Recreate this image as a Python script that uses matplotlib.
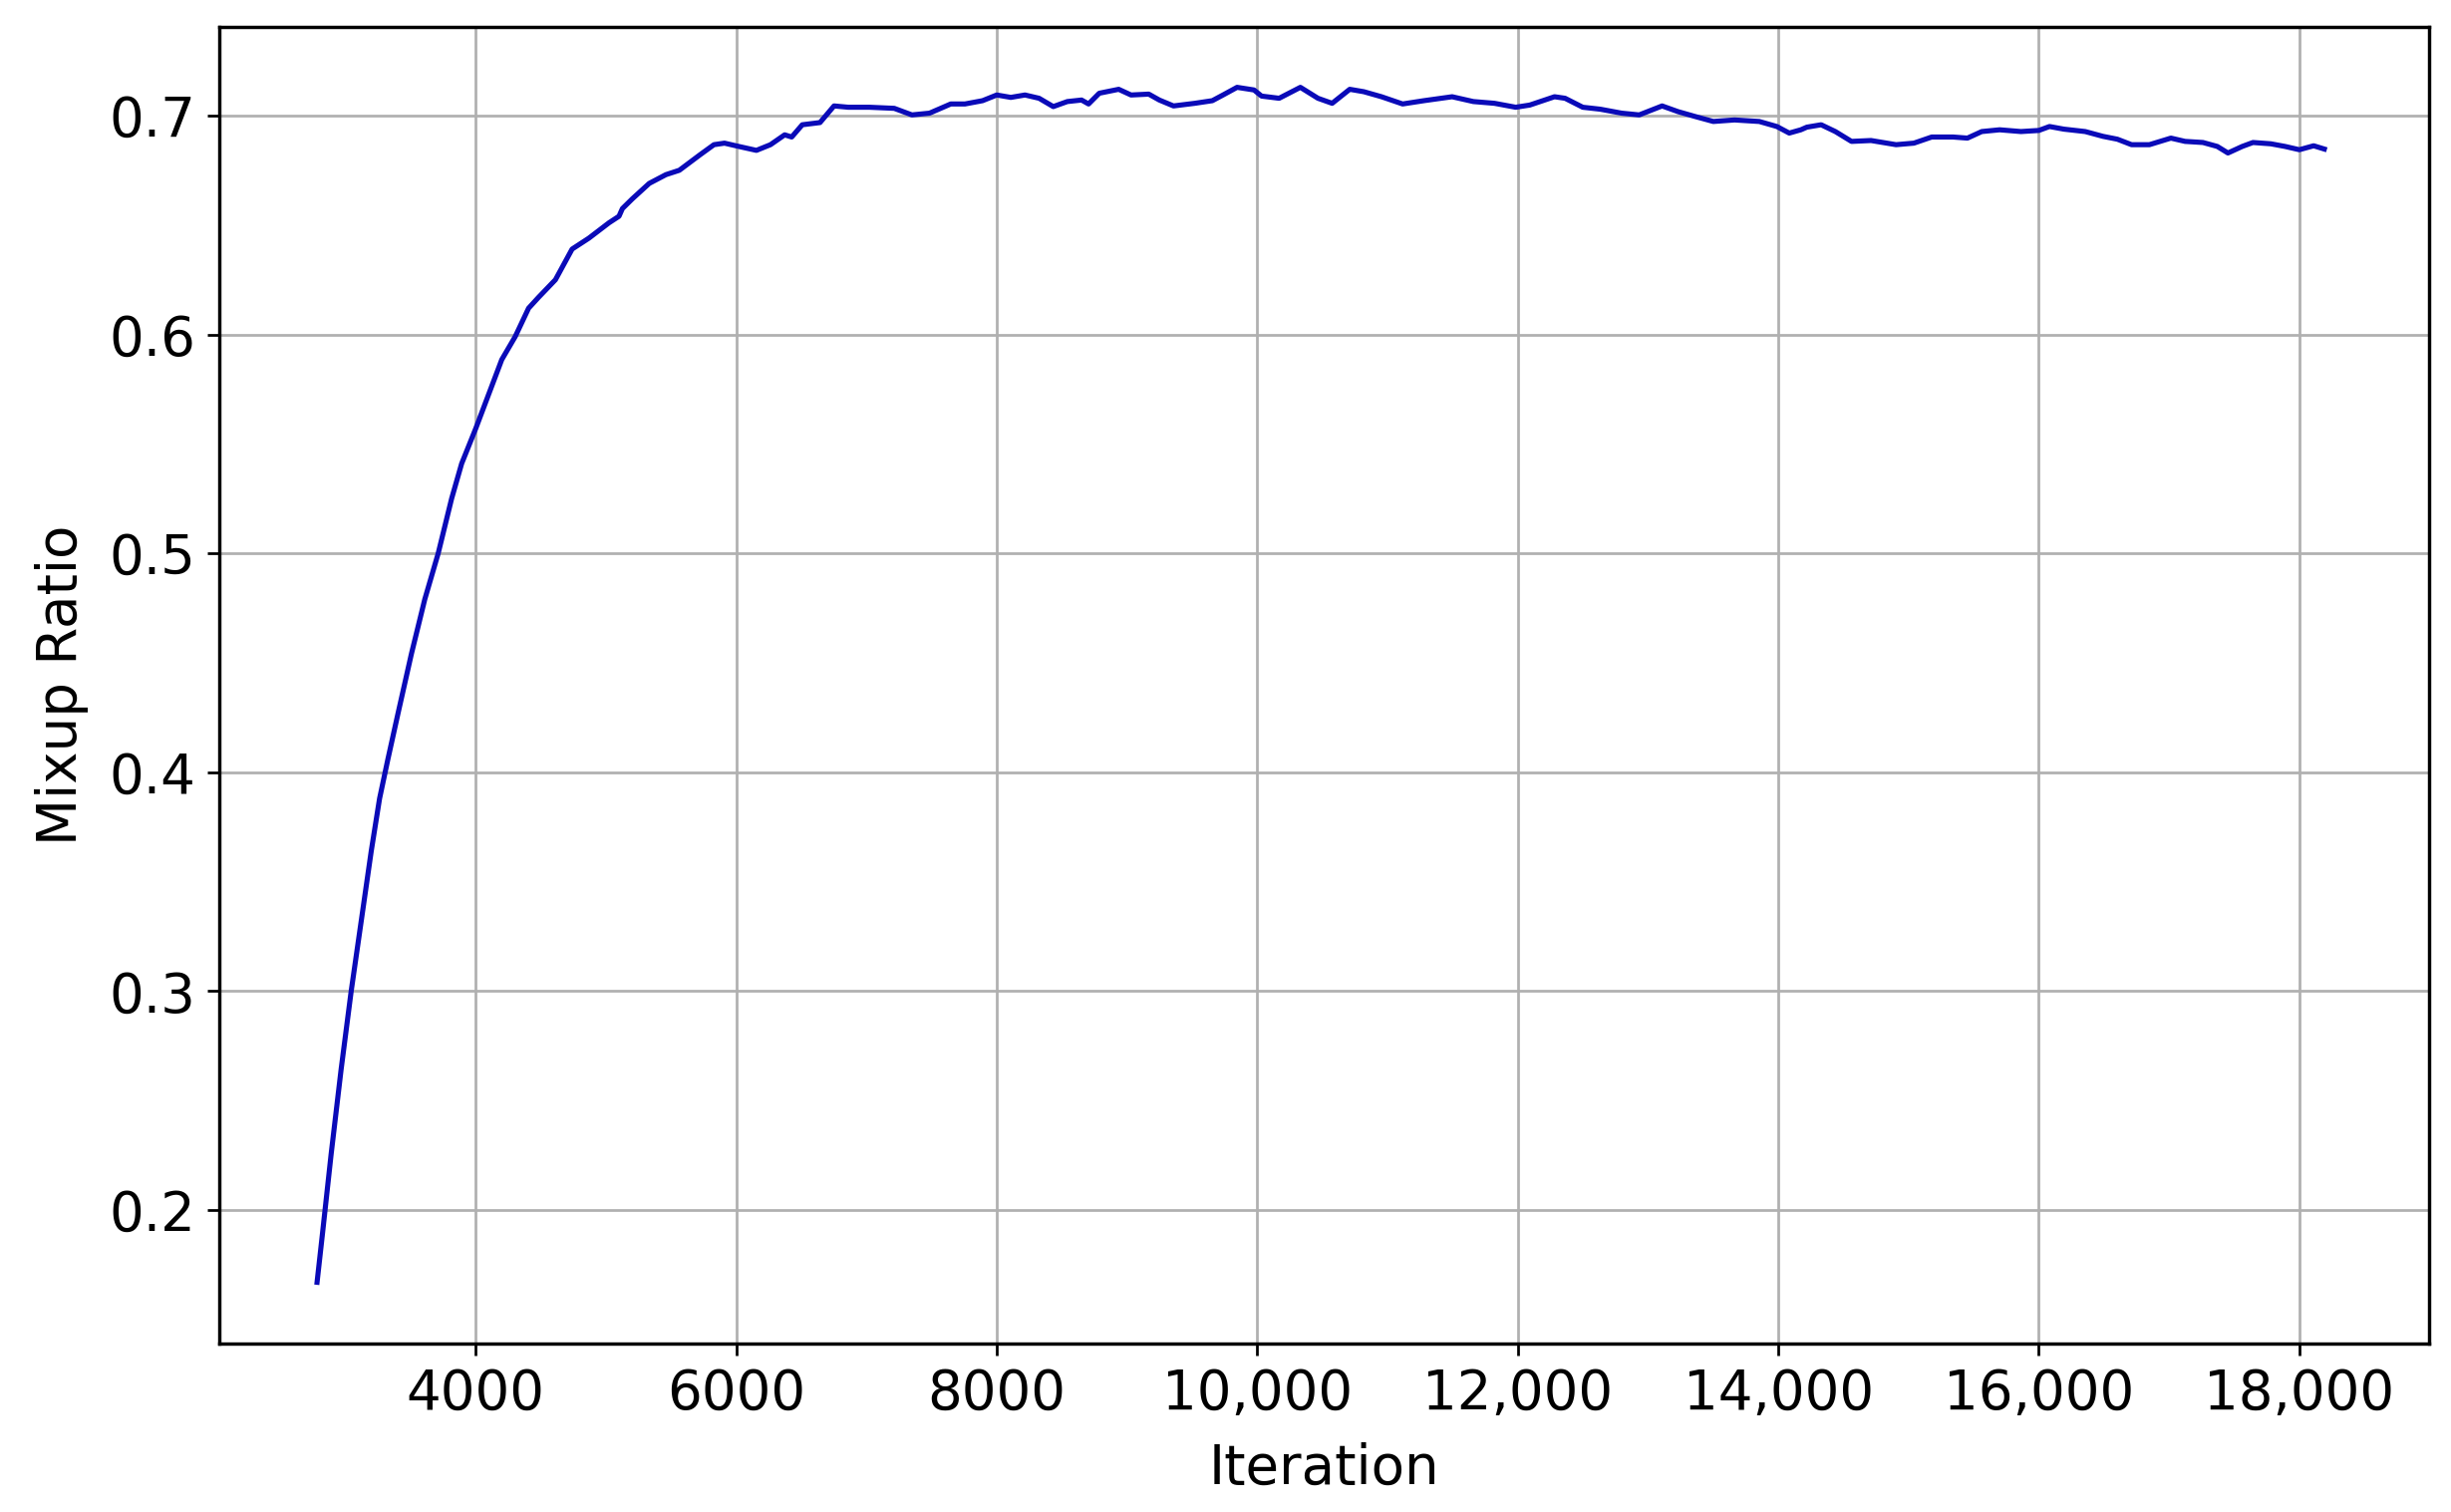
import matplotlib
matplotlib.use("Agg")
import matplotlib.pyplot as plt
from matplotlib.ticker import FuncFormatter

# values
iterations = [2782, 2825, 2890, 2967, 3044, 3121, 3198, 3262, 3326, 3404,
              3506, 3609, 3712, 3815, 3892, 4000, 4098, 4200, 4303, 4406,
              4483, 4612, 4740, 4869, 5023, 5100, 5126, 5203, 5332, 5460,
              5563, 5720, 5829, 5910, 6019, 6155, 6263, 6372, 6426, 6507,
              6643, 6751, 6860, 7023, 7213, 7349, 7484, 7647, 7756, 7891,
              8000, 8108, 8217, 8325, 8434, 8542, 8651, 8705, 8787, 8936,
              9031, 9167, 9248, 9357, 9520, 9655, 9737, 9845, 9975, 10033,
              10168, 10331, 10466, 10575, 10710, 10818, 10954, 11116, 11279, 11496,
              11659, 11821, 11984, 12092, 12282, 12363, 12499, 12634, 12797, 12932,
              13108, 13230, 13366, 13501, 13664, 13854, 13989, 14084, 14173, 14219,
              14329, 14438, 14562, 14712, 14904, 15041, 15178, 15342, 15452, 15562,
              15699, 15863, 16000, 16082, 16192, 16356, 16493, 16603, 16712, 16849,
              17014, 17123, 17260, 17370, 17452, 17562, 17644, 17781, 17890, 18000,
              18110, 18192]
mixup_ratio = [0.167, 0.190, 0.2255, 0.2644, 0.300, 0.332, 0.364, 0.388, 0.406, 0.427,
               0.454, 0.479, 0.500, 0.525, 0.541, 0.557, 0.5725, 0.5885, 0.599, 0.612,
               0.617, 0.625, 0.639, 0.644, 0.651, 0.654, 0.6575, 0.662, 0.669, 0.673,
               0.675, 0.682, 0.6867, 0.6874, 0.6859, 0.6841, 0.6867, 0.6912, 0.6902, 0.6958,
               0.6968, 0.7044, 0.7038, 0.7038, 0.7033, 0.7003, 0.7011, 0.7053, 0.7053, 0.7068,
               0.7094, 0.7083, 0.7094, 0.7079, 0.7041, 0.7064, 0.7071, 0.7053, 0.7102, 0.712,
               0.7094, 0.7098, 0.7071, 0.7044, 0.7056, 0.7068, 0.7094, 0.7129, 0.7117, 0.7089,
               0.7079, 0.7129, 0.7079, 0.7056, 0.712, 0.7109, 0.7086, 0.7053, 0.7068, 0.7086,
               0.7064, 0.7056, 0.7038, 0.7048, 0.7086, 0.7079, 0.7038, 0.7029, 0.7011, 0.7003,
               0.7044, 0.7018, 0.6995, 0.6973, 0.698, 0.6973, 0.695, 0.692, 0.6935, 0.6947,
               0.6958, 0.6927, 0.6882, 0.6886, 0.6867, 0.6874, 0.6902, 0.6902, 0.6897, 0.6927,
               0.6935, 0.6927, 0.6932, 0.695, 0.6938, 0.6927, 0.6905, 0.6892, 0.6867, 0.6867,
               0.6897, 0.6882, 0.6877, 0.6859, 0.6829, 0.6859, 0.6877, 0.6871, 0.6859, 0.6844,
               0.6862, 0.6847]

xticks = [4000, 6000, 8000, 10000, 12000, 14000, 16000, 18000]
yticks = [0.2, 0.3, 0.4, 0.5, 0.6, 0.7]


def iter_fmt(v, pos):
    v = int(round(v))
    return f"{v:,}" if v >= 10000 else str(v)


fig = plt.figure(figsize=(2459 / 246, 1517 / 246), dpi=246)
ax = fig.add_axes([0.0895, 0.1114, 0.9015, 0.8708])

ax.plot(iterations, mixup_ratio, color='#0a0ab8', lw=1.5)

ax.set_xticks(xticks)
ax.xaxis.set_major_formatter(FuncFormatter(iter_fmt))
ax.set_yticks(yticks)
ax.set_xlim(2032, 18995)
ax.set_ylim(0.139, 0.7405)
ax.tick_params(labelsize=16)
ax.set_xlabel('Iteration', fontsize=16, labelpad=6)
ax.set_ylabel('Mixup Ratio', fontsize=16, labelpad=6)
ax.grid(True)
for s in ax.spines.values():
    s.set_linewidth(1.0)

fig.savefig('out.png', dpi=246)
